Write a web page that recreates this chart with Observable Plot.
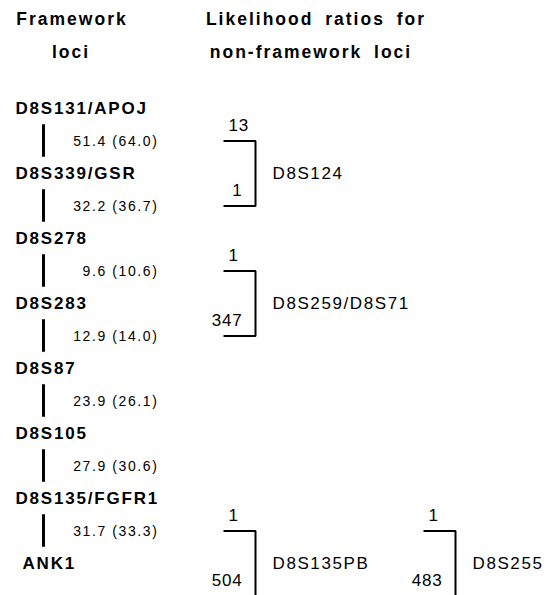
<!DOCTYPE html>
<html>
<head>
<meta charset="utf-8">
<script src="https://cdn.jsdelivr.net/npm/d3@7"></script>
<script src="https://cdn.jsdelivr.net/npm/@observablehq/plot@0.6"></script>
<style>
  body { margin: 0; background: #fff; font-family: "Liberation Sans", Arial, Helvetica, sans-serif; color: #000; }
  #head { position: relative; width: 554px; height: 70px; }
  #head div {
    position: absolute; transform: translate(-50%, -50%);
    font-weight: bold; font-size: 17.5px; letter-spacing: 2px; word-spacing: 5px;
    white-space: nowrap; line-height: 1;
  }
  #map svg { display: block; overflow: hidden; }
  #map g.locus { letter-spacing: 1.8px; }
  #map g.dist { letter-spacing: 1.6px; }
  #map g.ratio { letter-spacing: 0.8px; }
  #map g.nonfw { letter-spacing: 1.6px; }
</style>
</head>
<body>
<div id="head">
  <div style="left:72px;top:20px">Framework</div>
  <div style="left:71px;top:53px">loci</div>
  <div style="left:316px;top:20px">Likelihood ratios for</div>
  <div style="left:311px;top:53px">non-framework loci</div>
</div>
<div id="map"></div>
<script>
// Framework loci, top to bottom
const frameworkLoci = ["D8S131/APOJ", "D8S339/GSR", "D8S278", "D8S283", "D8S87", "D8S105", "D8S135/FGFR1", "ANK1"];
// Distance between adjacent framework loci, and the value shown in brackets
const intervalDistance = [51.4, 32.2, 9.6, 12.9, 23.9, 27.9, 31.7];
const intervalDistanceAlt = [64.0, 36.7, 10.6, 14.0, 26.1, 30.6, 33.3];

// Non-framework loci, with the two intervals they may fall in
// (interval k lies between framework locus k and k + 1; 7 is below ANK1)
const nonFrameworkLoci = ["D8S124", "D8S259/D8S71", "D8S135PB", "D8S255"];
const upperInterval = [0, 2, 6, 6];
const lowerInterval = [1, 3, 7, 7];
const upperRatio = [13, 1, 1, 1];
const lowerRatio = [1, 347, 504, 483];
const bracketColumn = [0, 0, 0, 1];

// Layout (pixels)
const X = { locus: 15, locusIndent: 7, bar: 43, distEnd: 158, bracketLeft: [223, 423], bracketWidth: 32 };
const W = 554, H = 525;

const loci = frameworkLoci.map((name, i) => ({ name, i, last: i === frameworkLoci.length - 1 }));
const intervals = intervalDistance.map((d, i) => ({
  i, label: `${d.toFixed(1)} (${intervalDistanceAlt[i].toFixed(1)})`
}));
const brackets = nonFrameworkLoci.map((name, k) => {
  const left = X.bracketLeft[bracketColumn[k]];
  return {
    name, left, right: left + X.bracketWidth,
    top: upperInterval[k] + 0.5, bottom: lowerInterval[k] + 0.5,
    upper: upperRatio[k], lower: lowerRatio[k]
  };
});
const bracketPath = brackets.flatMap(b => [
  { name: b.name, x: b.left, y: b.top },
  { name: b.name, x: b.right, y: b.top },
  { name: b.name, x: b.right, y: b.bottom },
  { name: b.name, x: b.left, y: b.bottom }
]);

const chart = Plot.plot({
  width: W, height: H,
  margin: 0,
  style: { background: "#fff", color: "#000", fontFamily: "'Liberation Sans', Arial, Helvetica, sans-serif" },
  x: { type: "identity", axis: null },
  y: { domain: [0, 7], range: [38, 38 + 65 * 7], axis: null },
  marks: [
    // linkage bars between framework loci
    Plot.ruleX(intervals, { x: X.bar, y1: d => d.i + 0.25, y2: d => d.i + 0.75, stroke: "#000", strokeWidth: 3 }),
    Plot.text(intervals, {
      x: X.distEnd, y: d => d.i + 0.5, text: "label", textAnchor: "end",
      fontSize: 14, fill: "#000", dy: 1, className: "dist"
    }),
    Plot.text(loci, {
      x: d => X.locus + (d.last ? X.locusIndent : 0), y: "i", text: "name", textAnchor: "start",
      fontSize: 17, fontWeight: "bold", fill: "#000", className: "locus"
    }),
    // brackets for the non-framework loci
    Plot.line(bracketPath, {
      x: "x", y: "y", z: "name", stroke: "#000", strokeWidth: 2,
      strokeLinejoin: "miter", strokeLinecap: "butt", curve: "linear"
    }),
    Plot.text(brackets, {
      x: d => d.left + 5, y: "top", text: d => String(d.upper), textAnchor: "start",
      dy: -15, fontSize: 17, fill: "#000", className: "ratio"
    }),
    Plot.text(brackets, {
      x: d => d.left + 19, y: "bottom", text: d => String(d.lower), textAnchor: "end",
      dy: -15, fontSize: 17, fill: "#000", className: "ratio"
    }),
    Plot.text(brackets, {
      x: d => d.right + 17, y: d => (d.top + d.bottom) / 2, text: "name", textAnchor: "start",
      fontSize: 17, fill: "#000", className: "nonfw"
    })
  ]
});
document.getElementById("map").appendChild(chart);
</script>
</body>
</html>
